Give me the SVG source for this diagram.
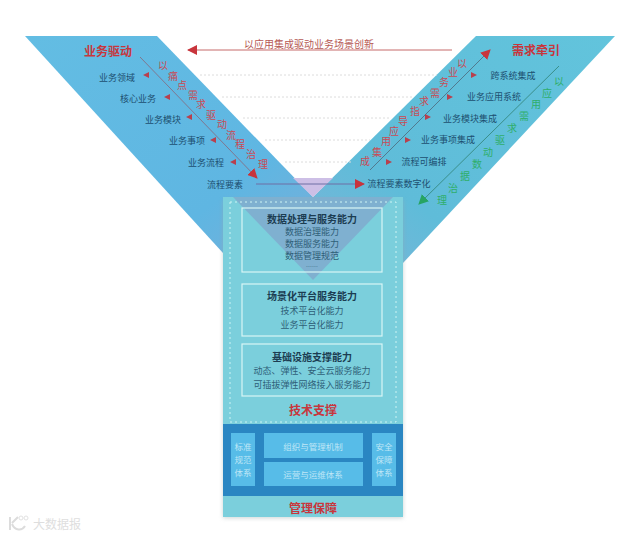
<svg xmlns="http://www.w3.org/2000/svg" width="640" height="537" viewBox="0 0 640 537">
<defs>
<linearGradient id="gl" x1="0" y1="0" x2="1" y2="1"><stop offset="0" stop-color="#63bde3"/><stop offset="0.7" stop-color="#5fb6e2"/><stop offset="1" stop-color="#7aaed8"/></linearGradient>
<linearGradient id="gr" x1="1" y1="0" x2="0" y2="1"><stop offset="0" stop-color="#62c4dc"/><stop offset="0.7" stop-color="#5fbcd9"/><stop offset="1" stop-color="#7db4d8"/></linearGradient>
<filter id="sh" x="-5%" y="-5%" width="110%" height="110%"><feGaussianBlur stdDeviation="2"/></filter>
<marker id="ar" viewBox="0 0 10 10" refX="9" refY="5" markerWidth="10" markerHeight="10" markerUnits="userSpaceOnUse" orient="auto"><path d="M0 0L10 5L0 10Z" fill="#c8343c"/></marker>
<marker id="ag" viewBox="0 0 10 10" refX="9" refY="5" markerWidth="10" markerHeight="10" markerUnits="userSpaceOnUse" orient="auto"><path d="M0 0L10 5L0 10Z" fill="#27a463"/></marker>
</defs>
<style>
text{font-family:"Noto Sans CJK SC","Liberation Sans",sans-serif;text-anchor:middle;dominant-baseline:central}
.lb{font-size:9px;fill:#1d4f70}
.t{font-size:12px;font-weight:700;fill:#c8363c}
.d{font-size:10px;fill:#c94a55}
.g{font-size:10px;fill:#2fae6b}
.h{font-size:10px;font-weight:700;fill:#1c3d52}
.s{font-size:9px;fill:#2f5f78}
.w{font-size:8.5px;fill:#bfe6f6}
.bx{fill:none;stroke:#d8f6f6;stroke-width:1.2}
.dot{stroke:#dcdcdc;stroke-width:1;stroke-dasharray:2 2;fill:none}
.ln{fill:none;stroke-width:1}
.tip{fill:#b8404e}
</style>
<g id="band-left"><polygon points="25,36 157,36 313,197 313,260 223,253" fill="url(#gl)"/></g>
<g id="band-right"><polygon points="476,36 615,36 403,263 313,260 313,197" fill="url(#gr)"/></g>
<polygon points="293,178 333,178 313,197" fill="#cdbfe6"/>
<g id="support">
<rect x="223" y="200" width="180" height="318" fill="#9aa" opacity=".5" filter="url(#sh)"/>
<rect x="223" y="197" width="180" height="320" fill="#7bcfdc"/>
<polygon points="233,197 393,197 313,280" fill="#7fb0d0"/>
<rect x="230" y="202" width="166" height="220" fill="none" stroke="#cdf3f3" stroke-width="1" stroke-dasharray="2 3"/>
<text class="t" x="313" y="409">技术支撑</text>
</g>
<g id="connectors">
<path class="dot" d="M200 75H437M222 97H412M243 118H390M265 140H370M285 162H352"/>
<path class="ln" stroke="#c66a6a" d="M452 50H188" marker-end="url(#ar)"/>
<path class="ln" stroke="#80778f" d="M140 57L257 178" marker-end="url(#ar)"/>
<path class="ln" stroke="#6f6fa5" d="M256 184H364" marker-end="url(#ar)"/>
<path class="ln" stroke="#517a8f" d="M370 170L490 50" marker-end="url(#ar)"/>
<path class="ln" stroke="#3a8f8a" d="M559 66L419 204" marker-end="url(#ag)"/>
<polygon class="tip" points="143,75 149,72 149,78"/><polygon class="tip" points="164,97 170,94 170,100"/><polygon class="tip" points="186,117 192,114 192,120"/><polygon class="tip" points="210,140 216,137 216,143"/><polygon class="tip" points="230,162 236,159 236,165"/>
<polygon class="tip" points="477,75 471,72 471,78"/><polygon class="tip" points="453,97 447,94 447,100"/><polygon class="tip" points="431,117 425,114 425,120"/><polygon class="tip" points="411,140 405,137 405,143"/><polygon class="tip" points="392,162 386,159 386,165"/>
</g>
<text id="top-label" x="309" y="43" style="font-size:10px;fill:#b65a55">以应用集成驱动业务场景创新</text>
<g id="business-drive">
<text class="t" x="108" y="50">业务驱动</text>
<text class="lb" x="117" y="77">业务领域</text>
<text class="lb" x="138" y="98">核心业务</text>
<text class="lb" x="163" y="119">业务模块</text>
<text class="lb" x="187" y="140">业务事项</text>
<text class="lb" x="206" y="162">业务流程</text>
<text class="lb" x="225" y="184">流程要素</text>
<text class="d" x="163" y="64">以</text><text class="d" x="173" y="75">痛</text><text class="d" x="182" y="84">点</text><text class="d" x="193" y="94">需</text><text class="d" x="201" y="103">求</text><text class="d" x="211" y="114">驱</text><text class="d" x="222" y="123">动</text><text class="d" x="231" y="134">流</text><text class="d" x="240" y="143">程</text><text class="d" x="251" y="153">治</text><text class="d" x="263" y="163">理</text>
</g>
<g id="demand-pull">
<text class="t" x="536" y="49">需求牵引</text>
<text class="lb" x="513" y="75">跨系统集成</text>
<text class="lb" x="494" y="96">业务应用系统</text>
<text class="lb" x="470" y="118">业务模块集成</text>
<text class="lb" x="448" y="139">业务事项集成</text>
<text class="lb" x="424" y="161">流程可编排</text>
<text class="lb" x="399" y="183">流程要素数字化</text>
<text class="d" x="462" y="62">以</text><text class="d" x="453" y="71">业</text><text class="d" x="444" y="81">务</text><text class="d" x="435" y="92">需</text><text class="d" x="424" y="100">求</text><text class="d" x="415" y="110">指</text><text class="d" x="403" y="120">导</text><text class="d" x="394" y="130">应</text><text class="d" x="386" y="140">用</text><text class="d" x="377" y="151">集</text><text class="d" x="365" y="160">成</text>
<text class="g" x="559" y="80">以</text><text class="g" x="547" y="92">应</text><text class="g" x="536" y="103">用</text><text class="g" x="524" y="115">需</text><text class="g" x="512" y="127">求</text><text class="g" x="500" y="139">驱</text><text class="g" x="488" y="151">动</text><text class="g" x="477" y="163">数</text><text class="g" x="465" y="175">据</text><text class="g" x="453" y="187">治</text><text class="g" x="442" y="199">理</text>
</g>
<g id="data-capability">
<rect class="bx" x="242" y="208" width="140" height="64"/>
<text class="h" x="312" y="218">数据处理与服务能力</text>
<text class="s" x="312" y="231">数据治理能力</text>
<text class="s" x="312" y="243">数据服务能力</text>
<text class="s" x="312" y="255">数据管理规范</text>
<text class="s" x="312" y="266" style="font-size:6px">……</text>
</g>
<g id="platform-capability">
<rect class="bx" x="242" y="284" width="140" height="52"/>
<text class="h" x="312" y="295">场景化平台服务能力</text>
<text class="s" x="312" y="310">技术平台化能力</text>
<text class="s" x="312" y="324">业务平台化能力</text>
</g>
<g id="infra-capability">
<rect class="bx" x="242" y="344" width="140" height="52"/>
<text class="h" x="312" y="356">基础设施支撑能力</text>
<text class="s" x="312" y="370">动态、弹性、安全云服务能力</text>
<text class="s" x="312" y="384">可插拔弹性网络接入服务能力</text>
</g>
<g id="management">
<rect x="223" y="424" width="180" height="72" fill="#2a86c2"/>
<rect x="231" y="433" width="24" height="53" fill="#57bce8"/>
<text class="w" x="243" y="446">标准</text><text class="w" x="243" y="459">规范</text><text class="w" x="243" y="472">体系</text>
<rect x="264" y="433" width="99" height="25" fill="#57bce8"/>
<text class="w" x="313" y="446">组织与管理机制</text>
<rect x="264" y="462" width="99" height="24" fill="#57bce8"/>
<text class="w" x="313" y="474">运营与运维体系</text>
<rect x="372" y="433" width="24" height="53" fill="#57bce8"/>
<text class="w" x="384" y="446">安全</text><text class="w" x="384" y="459">保障</text><text class="w" x="384" y="472">体系</text>
<text class="t" x="313" y="507">管理保障</text>
</g>
<g id="watermark">
<path d="M10 517V530M12 523L18 517M12 524C15 531 22 531 25 526" fill="none" stroke="#dcdcdc" stroke-width="2"/>
<circle cx="21" cy="518" r="2" fill="none" stroke="#e2e2e2"/><circle cx="26" cy="518" r="2" fill="none" stroke="#e2e2e2"/>
<text x="57" y="523" style="font-size:12px;fill:#dedede">大数据报</text>
</g>
</svg>
